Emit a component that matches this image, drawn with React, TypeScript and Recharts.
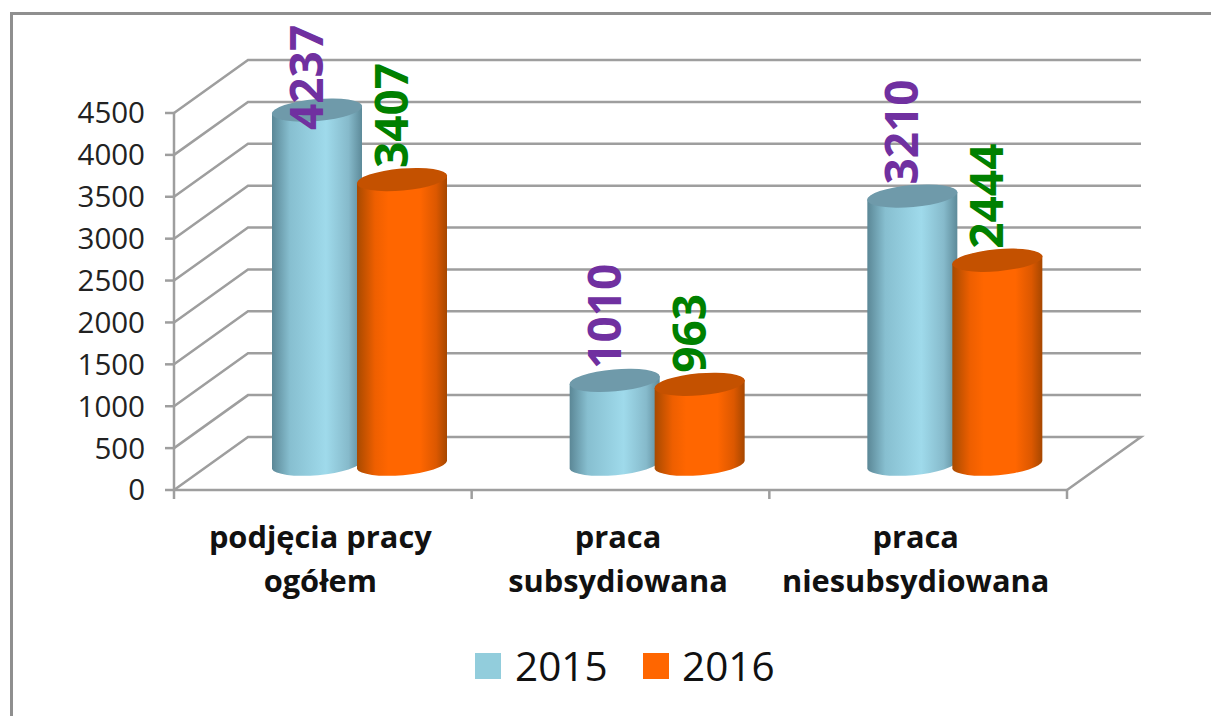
import { BarChart, Bar, XAxis, YAxis, CartesianGrid, Legend, LabelList } from 'recharts'

const categories = ['podjęcia pracy ogółem', 'praca subsydiowana', 'praca niesubsydiowana']
const values2015 = [4237, 1010, 3210]
const values2016 = [3407, 963, 2444]
const yTicks = [0, 500, 1000, 1500, 2000, 2500, 3000, 3500, 4000, 4500]

const rows = categories.map((name, i) => ({ name, y2015: values2015[i], y2016: values2016[i] }))

const FONT = '"Open Sans", sans-serif'
const AXIS = '#9e9e9e'
const DX = 74 // fake 3d depth
const DY = 53
const BAND = 297.67

const Cylinder = ({ x, y, width, height, grad, cap }: any) => {
  const left = x + DX / 2
  const right = left + width
  const top = y - DY / 2 + 1.5
  const bottom = y + height - DY / 2 + 1.5
  const rx = width / 2 + 0.3
  const ry = 11
  const tilt = 4
  const body = `M${left},${top + tilt} L${left},${bottom + tilt} A${rx},${ry} -5 0 0 ${right},${bottom - tilt} L${right},${top - tilt} A${rx},${ry} -5 0 0 ${left},${top + tilt} Z`
  return (
    <g>
      <path d={body} fill={`url(#${grad})`} />
      <ellipse
        cx={(left + right) / 2}
        cy={top}
        rx={rx}
        ry={ry}
        fill={cap}
        transform={`rotate(-5 ${(left + right) / 2} ${top})`}
      />
    </g>
  )
}

const ValueLabel = ({ x, y, width, value, color }: any) => {
  const cx = x + width / 2 + DX / 2 - 12
  const bottom = Math.max(130, y - DY / 2 - 10)
  return (
    <text
      transform={`translate(${cx},${bottom}) rotate(-90)`}
      dominantBaseline="central"
      fontFamily={FONT}
      fontWeight={700}
      fontSize={46}
      fill={color}
    >
      {value}
    </text>
  )
}

const GridLine = ({ x1, x2, y1 }: any) => {
  const isFloor = y1 > 489
  const pts = isFloor
    ? `${x1},${y1} ${x1 + DX},${y1 - DY} ${x2 + DX},${y1 - DY} ${x2},${y1}`
    : `${x1},${y1} ${x1 + DX},${y1 - DY} ${x2 + DX},${y1 - DY}`
  return <polyline key={y1} points={pts} fill="none" stroke={AXIS} strokeWidth={2.5} />
}

const CategoryTick = ({ x, index, payload }: any) => {
  const words = String(payload.value).split(' ')
  const last = words.pop()
  const first = words.join(' ')
  const bandRight = x + BAND / 2
  return (
    <g>
      {index === 0 && <line x1={x - BAND / 2} x2={x - BAND / 2} y1={490} y2={499} stroke={AXIS} strokeWidth={2.5} />}
      <line x1={bandRight} x2={bandRight} y1={490} y2={499} stroke={AXIS} strokeWidth={2.5} />
      <text textAnchor="middle" fontFamily={FONT} fontWeight={700} fontSize={30.8} fill="#111">
        <tspan x={x - 2.5} y={548}>{first}</tspan>
        <tspan x={x - 2.5} y={592}>{last}</tspan>
      </text>
    </g>
  )
}

const LegendRow = ({ payload }: any) => (
  <div style={{ position: 'relative', height: 76, fontFamily: FONT, fontSize: 40.5, color: '#111' }}>
    {(payload || []).map((p: any, i: number) => (
      <div key={p.value}>
        <div style={{ position: 'absolute', left: 475 + i * 168, top: 13, width: 26, height: 26, background: p.color }} />
        <div style={{ position: 'absolute', left: 515 + i * 167, top: 0, lineHeight: '52px' }}>{p.value}</div>
      </div>
    ))}
  </div>
)

export default function App() {
  return (
    <div style={{ position: 'absolute', left: 0, top: 0, width: 1211, height: 716, background: '#fff', overflow: 'hidden' }}>
      <div style={{ position: 'absolute', left: 10, top: 12, width: 1300, height: 800, border: '3px solid #8f8f8f' }} />
      <div style={{ position: 'absolute', left: 0, top: 0 }}>
        <BarChart
          width={1211}
          height={716}
          data={rows}
          margin={{ top: 113, right: 144, bottom: 0, left: 0 }}
          barSize={90}
          barGap={-5}
        >
          <defs>
            <linearGradient id="gradBlue" x1="0" y1="0" x2="1" y2="0">
              <stop offset="0" stopColor="#5b8796" />
              <stop offset="0.2" stopColor="#87bfd0" />
              <stop offset="0.6" stopColor="#9fdaeb" />
              <stop offset="0.85" stopColor="#86bacb" />
              <stop offset="1" stopColor="#5d8a99" />
            </linearGradient>
            <linearGradient id="gradOrange" x1="0" y1="0" x2="1" y2="0">
              <stop offset="0" stopColor="#a84a00" />
              <stop offset="0.2" stopColor="#ee5f00" />
              <stop offset="0.35" stopColor="#ff6600" />
              <stop offset="0.7" stopColor="#ff6600" />
              <stop offset="0.88" stopColor="#dc5800" />
              <stop offset="1" stopColor="#a64700" />
            </linearGradient>
          </defs>
          <CartesianGrid vertical={false} horizontal={(props: any) => <GridLine {...props} />} />
          <XAxis
            dataKey="name"
            height={150}
            axisLine={{ stroke: AXIS, strokeWidth: 2.5 }}
            tickLine={false}
            interval={0}
            tick={<CategoryTick />}
          />
          <YAxis
            width={174}
            domain={[0, 4500]}
            ticks={yTicks}
            interval={0}
            axisLine={{ stroke: AXIS, strokeWidth: 2.5 }}
            tickLine={{ stroke: AXIS, strokeWidth: 2.5 }}
            tickSize={9}
            tickMargin={20}
            tick={{ fontFamily: FONT, fontSize: 29.5, fill: '#222' }}
          />
          <Legend
            height={76}
            wrapperStyle={{ left: 0, top: 640, width: 1211 }}
            content={<LegendRow />}
          />
          <Bar
            dataKey="y2015"
            name="2015"
            fill="#92cddc"
            isAnimationActive={false}
            shape={(p: any) => <Cylinder {...p} grad="gradBlue" cap="#6f9aaa" />}
          >
            <LabelList dataKey="y2015" content={(p: any) => <ValueLabel {...p} color="#7030a0" />} />
          </Bar>
          <Bar
            dataKey="y2016"
            name="2016"
            fill="#ff6600"
            isAnimationActive={false}
            shape={(p: any) => <Cylinder {...p} grad="gradOrange" cap="#c45100" />}
          >
            <LabelList dataKey="y2016" content={(p: any) => <ValueLabel {...p} color="#008000" />} />
          </Bar>
        </BarChart>
      </div>
    </div>
  )
}
